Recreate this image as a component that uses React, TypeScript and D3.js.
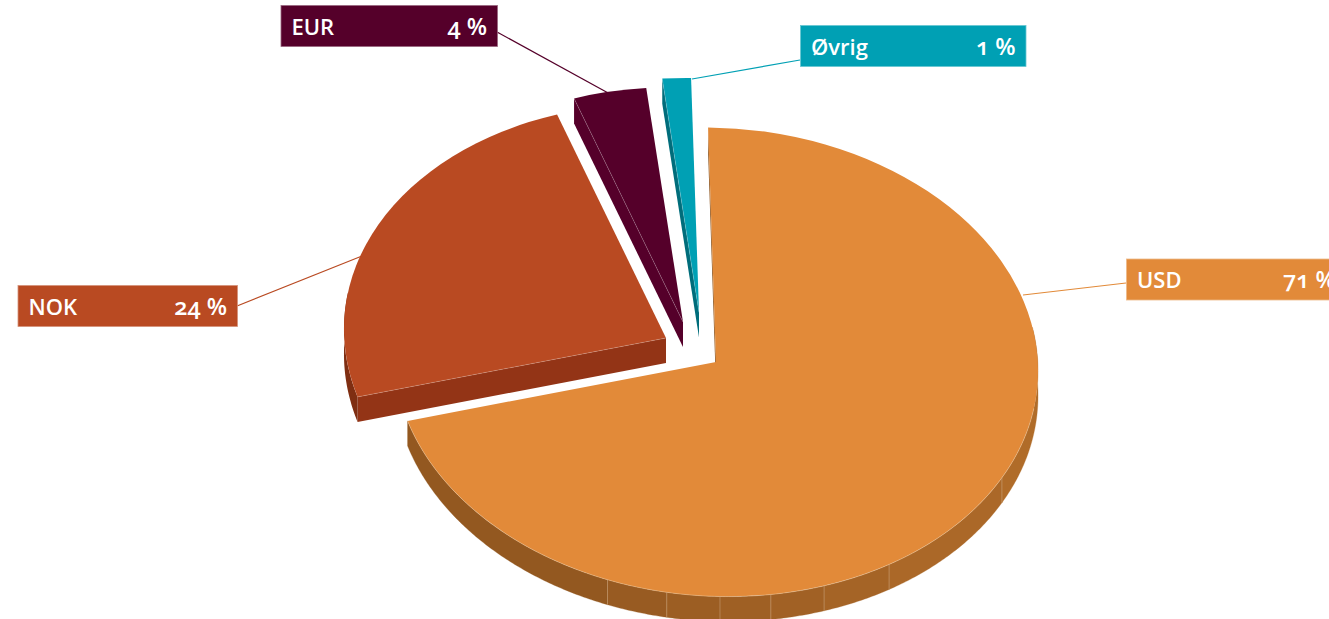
import React from "react";
import * as d3 from "d3";

// ---- data
const categories = ["USD", "NOK", "EUR", "Øvrig"];
const shares = [70.75, 24.15, 3.67, 1.43];
const percentLabels = ["71 %", "24 %", "4 %", "1 %"];

// ---- styling and layout
const topColors = ["#e28a39", "#b94a22", "#55002a", "#00a0b4"];
const edgeColors = ["#8f5720", "#933416", "#55002a", "#006d7b"];
const rimColors = ["#935a20", "#7f2e12", "#55002a", "#006d7b"];
const USD_RIM_STOPS = [80, 118.1, 148.2, 161.1, 170.9, 180, 189.5, 200.4, 254];
const USD_RIM_SHADES = ["#b06c29", "#ab6828", "#a56426", "#a16125", "#9f6024", "#9c5e23", "#985b22", "#935820"];
const W = 1329, H = 619;
const RX = 322, RY = 234.5, DEPTH = 25;
const SKEW_X = 0.017, SKEW_Y = 0.0186;
const START_DEG = -0.7;
const centerX = [716, 666, 683, 699];
const centerY = [362, 338, 322, 312.5];
const boxX = [1126.5, 18, 281, 800.5];
const boxY = [259, 285.5, 5.5, 25.5];
const boxW = [240, 219.5, 216.5, 225.5];
const BOX_H = 41;
const leaderFromX = [1023, 362, 610, 692];
const leaderFromY = [295, 256, 94, 79];
const leaderToX = [1126, 237, 497, 800];
const leaderToY = [283, 306, 32, 60];

const FONT = "'Open Sans', Lato, sans-serif";

const rad = (d: number) => (d * Math.PI) / 180;
const px = (cx: number, a: number) => cx + RX * Math.sin(rad(a)) - SKEW_X * RY * Math.cos(rad(a));
const py = (cy: number, a: number) => cy - RY * Math.cos(rad(a)) + SKEW_Y * RX * Math.sin(rad(a));

function rimPath(cx: number, cy: number, a0: number, a1: number) {
  const angles = d3.range(a0, a1, 0.5).concat([a1]);
  const area = d3
    .area<number>()
    .x((a) => px(cx, a))
    .y0((a) => py(cy, a))
    .y1((a) => py(cy, a) + DEPTH);
  return area(angles) as string;
}

function edgePath(cx: number, cy: number, a0: number, a1: number) {
  const angles = d3.range(a0, a1, 0.5).concat([a1]);
  const line = d3
    .line<number>()
    .x((a) => px(cx, a))
    .y((a) => py(cy, a));
  return line(angles) as string;
}

export default function App() {
  const pie = d3
    .pie<number>()
    .sort(null)
    .startAngle(rad(START_DEG))
    .endAngle(rad(START_DEG + 360));
  const arcs = pie(shares);
  const arcGen = d3.arc<d3.PieArcDatum<number>>().innerRadius(0).outerRadius(RX);
  const deg = (r: number) => (r * 180) / Math.PI;
  const S = RY / RX;

  return (
    <svg
      width={W}
      height={H}
      viewBox={`0 0 ${W} ${H}`}
      style={{ position: "absolute", left: 0, top: 0, background: "#fff", display: "block" }}
    >
      {categories.map((c, i) => (
        <line
          key={c}
          x1={leaderFromX[i]}
          y1={leaderFromY[i]}
          x2={leaderToX[i]}
          y2={leaderToY[i]}
          stroke={topColors[i]}
          strokeWidth={1.2}
        />
      ))}
      {arcs.map((a, i) => {
        const s = deg(a.startAngle);
        const e = deg(a.endAngle);
        const cx = centerX[i];
        const cy = centerY[i];
        const norm = ((s % 360) + 360) % 360;
        const lo = Math.max(s, 80);
        const hi = Math.min(e, 280);
        return (
          <g key={categories[i]}>
            {norm > 180 && (
              <path
                d={`M${cx},${cy}L${px(cx, s)},${py(cy, s)}L${px(cx, s)},${py(cy, s) + DEPTH}L${cx},${cy + DEPTH}Z`}
                fill={edgeColors[i]}
              />
            )}
            {hi > lo &&
              (i === 0 ? (
                USD_RIM_SHADES.map((shade, k) => (
                  <path
                    key={k}
                    d={rimPath(cx, cy, USD_RIM_STOPS[k], USD_RIM_STOPS[k + 1])}
                    fill={shade}
                    stroke={shade}
                    strokeWidth={0.3}
                  />
                ))
              ) : (
                <path d={rimPath(cx, cy, lo, hi)} fill={rimColors[i]} />
              ))}
            {i === 0 &&
              USD_RIM_STOPS.slice(1, -1).map((st) => (
                <line
                  key={st}
                  x1={px(cx, st)}
                  x2={px(cx, st)}
                  y1={py(cy, st)}
                  y2={py(cy, st) + DEPTH}
                  stroke="#c99f73"
                  strokeWidth={0.6}
                />
              ))}
            <g transform={`matrix(1,${SKEW_Y},${SKEW_X * S},${S},${cx},${cy})`}>
              <path d={arcGen(a) as string} fill={topColors[i]} />
            </g>
            {i === 0 && (
              <path
                d={edgePath(cx, cy, 100, e)}
                fill="none"
                stroke="#f3d3ae"
                strokeOpacity={0.7}
                strokeWidth={0.6}
              />
            )}
            {norm > 180 && i !== 0 && (
              <line
                x1={cx}
                y1={cy}
                x2={px(cx, s)}
                y2={py(cy, s)}
                stroke="#fff"
                strokeOpacity={0.3}
                strokeWidth={0.6}
              />
            )}
          </g>
        );
      })}
      {categories.map((c, i) => (
        <g key={c}>
          <rect
            x={boxX[i]}
            y={boxY[i]}
            width={boxW[i]}
            height={BOX_H}
            fill={topColors[i]}
            stroke={d3.interpolateRgb(topColors[i], "#ffffff")(0.4)}
            strokeWidth={0.8}
          />
          <text
            x={boxX[i] + 10.5}
            y={boxY[i] + 29}
            fill="#fff"
            fontFamily={FONT}
            fontSize={22}
            fontWeight={600}
          >
            {c}
          </text>
          <text
            x={i === 0 ? 1283 : boxX[i] + boxW[i] - 10.5}
            y={boxY[i] + 29}
            textAnchor={i === 0 ? "start" : "end"}
            fill="#fff"
            fontFamily={FONT}
            fontSize={23.5}
            fontWeight={600}
            style={{ fontVariantNumeric: "oldstyle-nums" }}
          >
            {percentLabels[i]}
          </text>
        </g>
      ))}
    </svg>
  );
}
